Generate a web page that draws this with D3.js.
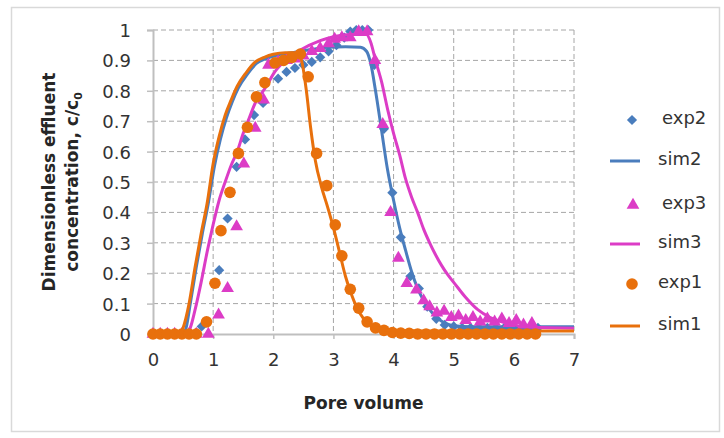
<!DOCTYPE html>
<html>
<head>
<meta charset="utf-8">
<script src="https://cdn.jsdelivr.net/npm/d3@7/dist/d3.min.js"></script>
<style>
  body { margin: 0; background: #fff; }
</style>
</head>
<body>
<div id="chart"></div>
<script>
// ---- data (pore volume, c/c0) ----
var exp2 = [[0,0],[0.12,0],[0.24,0],[0.36,0],[0.48,0],[0.6,0],[0.72,0.005],[0.81,0.025],[1.1,0.21],[1.24,0.38],
  [1.39,0.55],[1.53,0.64],[1.68,0.72],[1.83,0.76],[2.08,0.84],[2.22,0.862],[2.36,0.875],[2.5,0.885],[2.64,0.895],
  [2.78,0.91],[2.92,0.93],[3.05,0.95],[3.18,0.975],[3.28,0.995],[3.38,1.0],[3.48,1.0],[3.58,1.0],[3.68,0.885],
  [3.84,0.675],[3.98,0.465],[4.12,0.318],[4.28,0.19],[4.42,0.15],[4.56,0.09],[4.71,0.05],[4.85,0.03],[5.0,0.025],
  [5.14,0.02],[5.28,0.02],[5.42,0.02],[5.56,0.02],[5.7,0.02],[5.84,0.02],[5.98,0.02],[6.12,0.02],[6.26,0.02],[6.4,0.02]];

var sim2 = [[0,0],[0.5,0],[0.55,0.02],[0.62,0.1],[0.72,0.22],[0.82,0.33],[0.92,0.43],[1.02,0.55],[1.12,0.64],
  [1.22,0.71],[1.32,0.765],[1.42,0.81],[1.57,0.855],[1.72,0.89],[1.87,0.905],[2.02,0.915],[2.3,0.925],[2.6,0.935],
  [2.9,0.943],[3.2,0.945],[3.45,0.943],[3.55,0.93],[3.62,0.89],[3.7,0.8],[3.8,0.67],[3.9,0.54],[4.0,0.44],
  [4.1,0.35],[4.2,0.275],[4.3,0.205],[4.4,0.15],[4.5,0.11],[4.6,0.08],[4.7,0.057],[4.8,0.042],[4.9,0.032],
  [5.0,0.027],[5.3,0.024],[7,0.024]];

var exp3 = [[0,0],[0.12,0],[0.24,0],[0.36,0],[0.48,0],[0.6,0],[0.72,0],[0.92,0],[1.09,0.063],[1.24,0.15],
  [1.39,0.353],[1.51,0.56],[1.7,0.677],[1.84,0.77],[1.92,0.885],[2.08,0.895],[2.22,0.9],[2.36,0.905],[2.5,0.915],
  [2.64,0.93],[2.78,0.94],[2.92,0.955],[3.02,0.97],[3.14,0.975],[3.28,0.975],[3.42,0.995],[3.56,0.995],[3.69,0.9],
  [3.82,0.69],[3.95,0.4],[4.08,0.25],[4.22,0.167],[4.38,0.145],[4.5,0.11],[4.6,0.09],[4.72,0.07],[4.84,0.075],
  [4.96,0.055],[5.08,0.06],[5.2,0.045],[5.32,0.055],[5.44,0.04],[5.56,0.05],[5.68,0.04],[5.8,0.05],[5.92,0.035],
  [6.04,0.045],[6.16,0.03],[6.3,0.035]];

var sim3 = [[0,0],[0.55,0],[0.62,0.02],[0.7,0.08],[0.8,0.17],[0.9,0.27],[1.0,0.36],[1.1,0.44],[1.2,0.5],
  [1.3,0.555],[1.4,0.6],[1.5,0.66],[1.6,0.71],[1.7,0.76],[1.8,0.79],[1.9,0.82],[2.0,0.855],[2.2,0.9],[2.45,0.934],
  [2.78,0.965],[3.0,0.978],[3.3,0.985],[3.55,0.985],[3.62,0.96],[3.7,0.9],[3.8,0.83],[3.9,0.74],[4.0,0.66],
  [4.1,0.59],[4.2,0.51],[4.3,0.45],[4.4,0.4],[4.5,0.345],[4.6,0.3],[4.7,0.26],[4.8,0.225],[4.9,0.195],[5.0,0.17],
  [5.2,0.12],[5.4,0.08],[5.6,0.055],[5.8,0.04],[6.0,0.03],[6.3,0.022],[7,0.019]];

var exp1 = [[0,0],[0.12,0],[0.24,0],[0.36,0],[0.48,0],[0.6,0],[0.72,0],[0.89,0.04],[1.03,0.167],[1.13,0.34],
  [1.28,0.466],[1.42,0.594],[1.57,0.68],[1.72,0.78],[1.86,0.827],[2.03,0.892],[2.17,0.9],[2.31,0.91],[2.45,0.921],
  [2.58,0.846],[2.72,0.594],[2.89,0.488],[3.03,0.359],[3.14,0.257],[3.28,0.147],[3.42,0.085],[3.56,0.04],
  [3.7,0.02],[3.84,0.012],[3.98,0.005],[4.12,0.003],[4.26,0.002],[4.4,0],[4.54,0],[4.68,0],[4.82,0],[4.96,0],
  [5.1,0],[5.24,0],[5.38,0],[5.52,0],[5.66,0],[5.8,0],[5.94,0],[6.08,0],[6.22,0],[6.36,0]];

var sim1 = [[0,0],[0.45,0],[0.5,0.02],[0.6,0.1],[0.7,0.22],[0.8,0.33],[0.9,0.43],[1.0,0.56],[1.1,0.65],
  [1.2,0.72],[1.3,0.77],[1.4,0.815],[1.55,0.86],[1.7,0.895],[1.85,0.91],[2.0,0.92],[2.2,0.925],[2.4,0.925],
  [2.47,0.9],[2.55,0.8],[2.62,0.68],[2.7,0.57],[2.8,0.485],[2.9,0.42],[3.0,0.35],[3.1,0.27],[3.2,0.19],
  [3.3,0.13],[3.44,0.068],[3.55,0.04],[3.7,0.022],[3.9,0.013],[4.5,0.01],[7,0.01]];

var xTicks = [0, 1, 2, 3, 4, 5, 6, 7];
var yTicks = [0, 0.1, 0.2, 0.3, 0.4, 0.5, 0.6, 0.7, 0.8, 0.9, 1];
var seriesNames = ["exp2", "sim2", "exp3", "sim3", "exp1", "sim1"];

var blue = "#4a7dbd", pink = "#dc3cc6", orange = "#e8700c";

// ---- layout ----
var W = 724, H = 438;
var margin = {top: 30, right: 150, bottom: 104, left: 153},
    width = W - margin.left - margin.right,
    height = H - margin.top - margin.bottom;

var svg = d3.select("#chart")
  .append("svg")
  .attr("width", W)
  .attr("height", H);

// outer chart frame
svg.append("rect")
  .attr("x", 11.5).attr("y", 7.5)
  .attr("width", 708).attr("height", 424)
  .attr("fill", "none").attr("stroke", "#d9d9d9").attr("stroke-width", 1.5);

var g = svg.append("g")
  .attr("transform", "translate(" + margin.left + "," + margin.top + ")");

var x = d3.scaleLinear().domain([0, 7]).range([0, width]);
var y = d3.scaleLinear().domain([0, 1]).range([height, 0]);

// dashed grid
g.append("g").selectAll("line")
  .data(yTicks.filter(function(d) { return d > 0; }))
  .enter().append("line")
    .attr("x1", 0).attr("x2", width)
    .attr("y1", function(d) { return y(d); })
    .attr("y2", function(d) { return y(d); })
    .attr("stroke", "#a6a6a6").attr("stroke-dasharray", "5,3");

g.append("g").selectAll("line")
  .data(xTicks.filter(function(d) { return d > 0; }))
  .enter().append("line")
    .attr("y1", 0).attr("y2", height)
    .attr("x1", function(d) { return x(d); })
    .attr("x2", function(d) { return x(d); })
    .attr("stroke", "#a6a6a6").attr("stroke-dasharray", "5,3");

// axes
var xAxis = g.append("g")
  .attr("transform", "translate(0," + height + ")")
  .call(d3.axisBottom(x).tickValues(xTicks).tickSize(5).tickPadding(14).tickFormat(d3.format("d")));
var yAxis = g.append("g")
  .call(d3.axisLeft(y).tickValues(yTicks).tickSize(6).tickPadding(16).tickFormat(function(d) { return d3.format("")(d); }));

[xAxis, yAxis].forEach(function(a) {
  a.select(".domain").attr("stroke", "#bfbfbf").attr("stroke-width", 2);
  a.selectAll(".tick line").attr("stroke", "#bfbfbf").attr("stroke-width", 1.5);
  a.selectAll("text")
    .attr("font-family", "'DejaVu Sans', sans-serif")
    .attr("font-size", "18px")
    .attr("fill", "#333");
});
yAxis.selectAll("text").attr("dy", "0.36em");

// axis titles
g.append("text")
  .attr("x", width / 2).attr("y", height + 75)
  .attr("text-anchor", "middle")
  .attr("font-family", "'DejaVu Sans', sans-serif")
  .attr("font-weight", "bold").attr("font-size", "17px")
  .attr("fill", "#262626")
  .text("Pore volume");

var yTitle = g.append("text")
  .attr("transform", "translate(" + (-98) + "," + (height / 2) + ") rotate(-90)")
  .attr("text-anchor", "middle")
  .attr("font-family", "'DejaVu Sans', sans-serif")
  .attr("font-weight", "bold").attr("font-size", "17px")
  .attr("fill", "#262626");
yTitle.append("tspan").attr("x", 0).attr("y", 0).text("Dimensionless effluent");
yTitle.append("tspan").attr("x", 0).attr("y", 0).attr("dy", 23).text("concentration, c/c");
yTitle.append("tspan").attr("font-size", "11px").attr("dy", 4).text("0");

// ---- series ----
var line = d3.line()
  .x(function(d) { return x(d[0]); })
  .y(function(d) { return y(d[1]); })
  .curve(d3.curveMonotoneX);

// diamond = square turned 45 degrees
var diamond = d3.symbol().type(d3.symbolSquare).size(52);
var triangle = d3.symbol().type(d3.symbolTriangle).size(70);

function drawLine(data, color) {
  g.append("path").datum(data)
    .attr("d", line)
    .attr("fill", "none")
    .attr("stroke", color)
    .attr("stroke-width", 3);
}

// exp2
g.append("g").selectAll("path")
  .data(exp2).enter().append("path")
    .attr("d", diamond)
    .attr("transform", function(d) { return "translate(" + x(d[0]) + "," + y(d[1]) + ") rotate(45)"; })
    .attr("fill", blue);
drawLine(sim2, blue);

// exp3
g.append("g").selectAll("path")
  .data(exp3).enter().append("path")
    .attr("d", triangle)
    .attr("transform", function(d) { return "translate(" + x(d[0]) + "," + y(d[1]) + ")"; })
    .attr("fill", pink);
drawLine(sim3, pink);

// exp1
g.append("g").selectAll("circle")
  .data(exp1).enter().append("circle")
    .attr("cx", function(d) { return x(d[0]); })
    .attr("cy", function(d) { return y(d[1]); })
    .attr("r", 5.8)
    .attr("fill", orange);
drawLine(sim1, orange);

// ---- legend ----
var legendY = [120, 161, 205, 244, 284, 326];
var legendColors = [blue, blue, pink, pink, orange, orange];
var legend = svg.append("g");

seriesNames.forEach(function(name, i) {
  var cy = legendY[i];
  var isLine = name.indexOf("sim") === 0;
  if (isLine) {
    legend.append("line")
      .attr("x1", 610).attr("x2", 640)
      .attr("y1", cy).attr("y2", cy)
      .attr("stroke", legendColors[i]).attr("stroke-width", 3);
  } else if (name === "exp2") {
    legend.append("path").attr("d", diamond)
      .attr("transform", "translate(632," + cy + ") rotate(45)").attr("fill", blue);
  } else if (name === "exp3") {
    legend.append("path").attr("d", triangle)
      .attr("transform", "translate(633," + cy + ")").attr("fill", pink);
  } else {
    legend.append("circle").attr("cx", 632).attr("cy", cy).attr("r", 5.8).attr("fill", orange);
  }
  legend.append("text")
    .attr("x", (name === "exp2" || name === "exp3") ? 662 : 658)
    .attr("y", cy - 2)
    .attr("dy", "0.35em")
    .attr("font-family", "'DejaVu Sans', sans-serif")
    .attr("font-size", "18px")
    .attr("fill", "#333")
    .text(name);
});
</script>
</body>
</html>
